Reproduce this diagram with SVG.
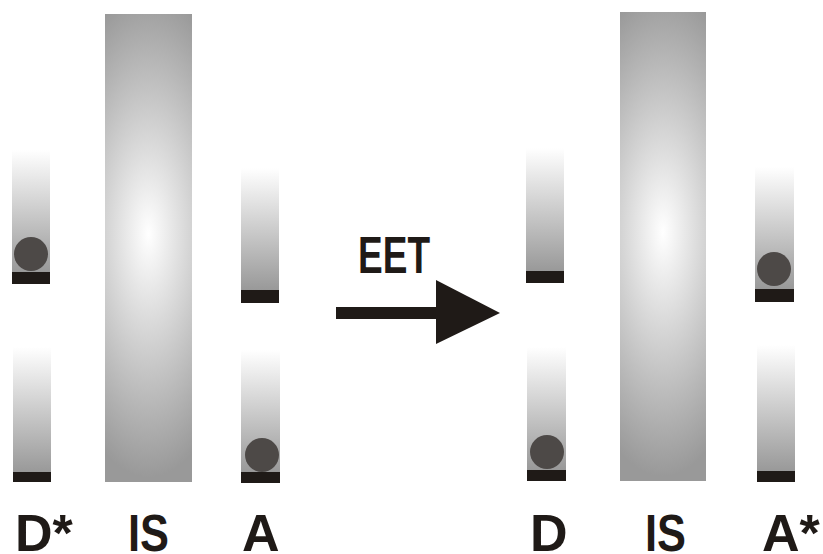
<svg xmlns="http://www.w3.org/2000/svg" width="823" height="554" viewBox="0 0 823 554">
  <style>
    .tube { fill: url(#tubeFill); }
    .slab { fill: url(#slabFill); }
    .bar { fill: #1f1a17; }
    .dot { fill: #4d4947; }
    .lbl { font-family: "Liberation Sans", Arial, sans-serif; font-weight: bold; font-size: 52px; fill: #1f1a17; }
  </style>
  <defs>
    <linearGradient id="tubeFill" x1="0" y1="0" x2="0" y2="1">
      <stop offset="0" stop-color="#ffffff"/>
      <stop offset="1" stop-color="#999999"/>
    </linearGradient>
    <radialGradient id="slabFill" cx="0" cy="0" r="1" gradientTransform="translate(0.5,0.47) scale(1.15,0.52)">
      <stop offset="0" stop-color="#ffffff"/>
      <stop offset="1" stop-color="#999999"/>
    </radialGradient>
  </defs>

  <!-- before transfer -->
  <g id="donor-excited">
    <rect class="tube" x="12" y="150" width="38" height="122"/>
    <rect class="bar" x="12" y="272" width="38" height="12"/>
    <circle class="dot" cx="31" cy="254" r="17"/>
    <rect class="tube" x="13" y="347" width="38" height="125"/>
    <rect class="bar" x="13" y="472" width="38" height="10"/>
    <text class="lbl" x="15" y="551">D*</text>
  </g>
  <g id="spacer-left">
    <rect class="slab" x="105" y="14" width="87" height="468"/>
    <text class="lbl" x="128" y="551" textLength="41" lengthAdjust="spacingAndGlyphs">IS</text>
  </g>
  <g id="acceptor">
    <rect class="tube" x="241" y="168" width="38" height="122"/>
    <rect class="bar" x="241" y="290" width="38" height="13"/>
    <rect class="tube" x="241" y="350" width="39" height="122"/>
    <rect class="bar" x="241" y="472" width="39" height="11"/>
    <circle class="dot" cx="262" cy="455" r="17"/>
    <text class="lbl" x="242" y="551">A</text>
  </g>

  <!-- transfer arrow -->
  <g id="connectors">
    <rect x="336" y="307" width="101" height="12" fill="#1f1a17"/>
    <polygon points="436,280 500,313 436,344" fill="#1f1a17"/>
    <text class="lbl" x="358" y="273" textLength="72" lengthAdjust="spacingAndGlyphs">EET</text>
  </g>

  <!-- after transfer -->
  <g id="donor">
    <rect class="tube" x="526" y="148" width="38" height="123"/>
    <rect class="bar" x="526" y="271" width="38" height="12"/>
    <rect class="tube" x="527" y="347" width="39" height="123"/>
    <rect class="bar" x="527" y="470" width="39" height="11"/>
    <circle class="dot" cx="547" cy="452" r="17"/>
    <text class="lbl" x="530" y="551">D</text>
  </g>
  <g id="spacer-right">
    <rect class="slab" x="620" y="12" width="86" height="469"/>
    <text class="lbl" x="645" y="551" textLength="41" lengthAdjust="spacingAndGlyphs">IS</text>
  </g>
  <g id="acceptor-excited">
    <rect class="tube" x="755" y="167" width="39" height="122"/>
    <rect class="bar" x="755" y="289" width="39" height="13"/>
    <circle class="dot" cx="774" cy="269" r="17"/>
    <rect class="tube" x="757" y="345" width="38" height="126"/>
    <rect class="bar" x="757" y="471" width="38" height="11"/>
    <text class="lbl" x="762" y="551">A*</text>
  </g>
</svg>
